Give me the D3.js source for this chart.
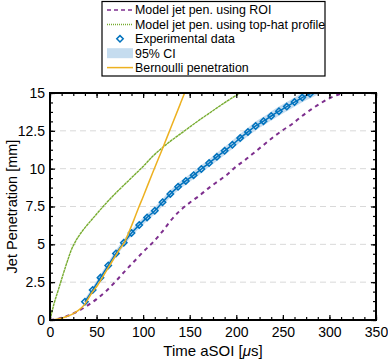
<!DOCTYPE html>
<html>
<head>
<meta charset="utf-8">
<script src="https://cdn.jsdelivr.net/npm/d3@7"></script>
<style>
  body { margin: 0; background: #fff; }
  text { font-family: "Liberation Sans", Arial, sans-serif; }
</style>
</head>
<body>
<div id="chart"></div>
<script>
// data
const expTime = [37.5, 45.8, 54.2, 62.5, 70.8, 79.2, 87.5, 95.8, 104.2, 112.5, 120.8, 129.2, 137.5, 145.8,
  154.2, 162.5, 170.8, 179.2, 187.5, 195.8, 204.2, 212.5, 220.8, 229.2, 237.5, 245.8, 254.2, 262.5,
  270.8, 279.2, 287.5, 295.8];
const expPen = [1.21, 1.98, 2.8, 3.6, 4.4, 5.1, 5.75, 6.28, 6.78, 7.22, 7.78, 8.33, 8.8, 9.19,
  9.57, 9.98, 10.37, 10.78, 11.18, 11.58, 12.02, 12.43, 12.82, 13.14, 13.48, 13.8, 14.1, 14.4,
  14.7, 14.95, 15.22, 15.5];
const ciLow = [1.01, 1.78, 2.59, 3.39, 4.18, 4.88, 5.53, 6.05, 6.55, 6.98, 7.54, 8.09, 8.55, 8.94,
  9.31, 9.72, 10.11, 10.51, 10.91, 11.3, 11.74, 12.15, 12.53, 12.85, 13.18, 13.5, 13.8, 14.09,
  14.39, 14.63, 14.9, 15.18];
const ciHigh = [1.41, 2.18, 3.01, 3.81, 4.62, 5.32, 5.97, 6.51, 7.01, 7.46, 8.02, 8.57, 9.05, 9.44,
  9.83, 10.24, 10.63, 11.05, 11.45, 11.86, 12.3, 12.71, 13.11, 13.43, 13.78, 14.1, 14.4, 14.71,
  15.01, 15.27, 15.54, 15.82];

const roiTime = [0, 10, 20, 30, 40, 50, 60, 70, 80, 90, 100, 110, 120, 130, 140, 150, 160, 170, 180,
  190, 200, 210, 220, 230, 240, 250, 260, 270, 280, 290, 300, 314, 325];
const roiPen = [0, 0.1, 0.3, 0.58, 0.95, 1.38, 1.9, 2.52, 3.2, 3.85, 4.5, 5.1, 5.8, 6.6, 7.25, 7.75,
  8.2, 8.7, 9.15, 9.6, 10.15, 10.6, 11.1, 11.6, 12.1, 12.55, 12.95, 13.45, 13.9, 14.3, 14.65, 15, 15.3];

const hatTime = [0, 4, 9, 14, 19, 23, 27, 35, 43, 50, 60, 70, 80, 90, 100, 110, 120, 130, 140, 150,
  160, 170, 180, 190, 204, 215];
const hatPen = [0, 1.0, 2.0, 3.0, 3.95, 4.65, 5.15, 5.9, 6.5, 7.0, 7.7, 8.35, 8.95, 9.55, 10.15,
  10.8, 11.35, 11.85, 12.3, 12.75, 13.2, 13.62, 14.05, 14.46, 15.0, 15.4];

const bernTime = [0, 10, 20, 25, 30, 37.5, 45, 50, 60, 70, 75, 80, 85, 90, 95, 100, 110, 120, 130, 140, 150];
const bernPen = [0, 0.08, 0.28, 0.42, 0.62, 1.05, 1.8, 2.2, 3.2, 4.2, 4.7, 5.15, 5.85, 6.6, 7.4,
  8.15, 9.7, 11.2, 12.75, 14.3, 15.85];

const xTicks = [0, 50, 100, 150, 200, 250, 300, 350];
const yTicks = [0, 2.5, 5, 7.5, 10, 12.5, 15];

const W = 388, H = 360;
const margin = {top: 93, right: 12, bottom: 40, left: 50},
    width = W - margin.left - margin.right,
    height = H - margin.top - margin.bottom;

const cPurple = "#7E2F8E", cGreen = "#77AC30", cBlue = "#0072BD", cOrange = "#EDB120", cCI = "#c5dcef";

const svg = d3.select("#chart").append("svg")
    .attr("width", W).attr("height", H);

const g = svg.append("g").attr("transform", `translate(${margin.left},${margin.top})`);

const x = d3.scaleLinear().domain([0, 350]).range([0, width]);
const y = d3.scaleLinear().domain([0, 15]).range([height, 0]);

g.append("clipPath").attr("id", "clip")
  .append("rect").attr("width", width).attr("height", height);

// grid
g.selectAll(".grid").data(yTicks.filter(d => d > 0 && d < 15))
  .join("line")
    .attr("x1", 0).attr("x2", width)
    .attr("y1", d => y(d)).attr("y2", d => y(d))
    .attr("stroke", "#d9d9d9").attr("stroke-width", 1)
    .attr("stroke-dasharray", "6,4");

const plot = g.append("g").attr("clip-path", "url(#clip)");

const exp = expTime.map((t, i) => ({t, v: expPen[i], lo: ciLow[i], hi: ciHigh[i]}));
const pairs = (ts, vs) => ts.map((t, i) => ({t, v: vs[i]}));

// CI band
plot.append("path").datum(exp)
  .attr("fill", cCI)
  .attr("d", d3.area().x(d => x(d.t)).y0(d => y(d.lo)).y1(d => y(d.hi)).curve(d3.curveMonotoneX));

const line = d3.line().x(d => x(d.t)).y(d => y(d.v)).curve(d3.curveMonotoneX);

plot.append("path").datum(pairs(roiTime, roiPen))
  .attr("fill", "none").attr("stroke", cPurple).attr("stroke-width", 2)
  .attr("stroke-dasharray", "4,4").attr("d", line);

plot.append("path").datum(pairs(hatTime, hatPen))
  .attr("fill", "none").attr("stroke", cGreen).attr("stroke-width", 1.4)
  .attr("stroke-dasharray", "3,0.5").attr("d", line);

plot.append("path").datum(exp)
  .attr("fill", "none").attr("stroke", cBlue).attr("stroke-width", 1.5)
  .attr("d", line);

const diamond = d3.symbol().type(d3.symbolDiamond2).size(26);
plot.selectAll(".pt").data(exp.filter(d => d.v <= 15))
  .join("path")
    .attr("transform", d => `translate(${x(d.t)},${y(d.v)})`)
    .attr("d", diamond)
    .attr("fill", "none").attr("stroke", cBlue).attr("stroke-width", 1.5);

plot.append("path").datum(pairs(bernTime, bernPen))
  .attr("fill", "none").attr("stroke", cOrange).attr("stroke-width", 1.5)
  .attr("d", line);

// axes with inward ticks, mirrored on all sides
function drawAxis(axis, transform) {
  const a = g.append("g").attr("transform", transform).call(axis);
  a.select(".domain").remove();
  a.selectAll(".tick line").attr("stroke", "#000").attr("stroke-width", 1.2);
  a.selectAll("text").attr("font-size", 14).attr("fill", "#000");
  return a;
}
const minorX = d3.range(0, 350.1, 12.5), minorY = d3.range(0, 15.01, 0.625);

drawAxis(d3.axisBottom(x).tickValues(xTicks).tickSize(-5).tickPadding(7).tickFormat(d3.format("d")), `translate(0,${height})`);
drawAxis(d3.axisBottom(x).tickValues(minorX).tickSize(-3).tickFormat(""), `translate(0,${height})`);
drawAxis(d3.axisTop(x).tickValues(xTicks).tickSize(-5).tickFormat(""), "translate(0,0)");
drawAxis(d3.axisTop(x).tickValues(minorX).tickSize(-3).tickFormat(""), "translate(0,0)");
drawAxis(d3.axisLeft(y).tickValues(yTicks).tickSize(-5).tickPadding(5).tickFormat(d => d), "translate(0,0)");
drawAxis(d3.axisLeft(y).tickValues(minorY).tickSize(-3).tickFormat(""), "translate(0,0)");
drawAxis(d3.axisRight(y).tickValues(yTicks).tickSize(-5).tickFormat(""), `translate(${width},0)`);
drawAxis(d3.axisRight(y).tickValues(minorY).tickSize(-3).tickFormat(""), `translate(${width},0)`);

g.append("rect").attr("width", width).attr("height", height)
  .attr("fill", "none").attr("stroke", "#000").attr("stroke-width", 2);

// axis labels
const xl = svg.append("text")
  .attr("x", margin.left + width / 2).attr("y", 356)
  .attr("text-anchor", "middle").attr("font-size", 15);
xl.append("tspan").text("Time aSOI [");
xl.append("tspan").attr("font-style", "italic").text("μ");
xl.append("tspan").text("s]");

svg.append("text")
  .attr("transform", `translate(17,${margin.top + height / 2}) rotate(-90)`)
  .attr("text-anchor", "middle").attr("font-size", 14.5)
  .text("Jet Penetration [mm]");

// legend
const legend = svg.append("g");
legend.append("rect").attr("x", 102).attr("y", 1.5).attr("width", 223).attr("height", 74.5)
  .attr("fill", "#fff").attr("stroke", "#000").attr("stroke-width", 1.2);

const items = [
  {label: "Model jet pen. using ROI", kind: "roi"},
  {label: "Model jet pen. using top-hat profile", kind: "hat"},
  {label: "Experimental data", kind: "exp"},
  {label: "95% CI", kind: "ci"},
  {label: "Bernoulli penetration", kind: "bern"}
];
items.forEach((it, i) => {
  const yy = 10 + i * 14.4;
  const sx0 = 107, sx1 = 133;
  if (it.kind === "roi") {
    legend.append("line").attr("x1", sx0).attr("x2", sx1).attr("y1", yy).attr("y2", yy)
      .attr("stroke", cPurple).attr("stroke-width", 1.5).attr("stroke-dasharray", "4,3");
  } else if (it.kind === "hat") {
    legend.append("line").attr("x1", sx0).attr("x2", sx1).attr("y1", yy).attr("y2", yy)
      .attr("stroke", cGreen).attr("stroke-width", 1.5).attr("stroke-dasharray", "1,1");
  } else if (it.kind === "exp") {
    legend.append("path").attr("transform", `translate(${(sx0 + sx1) / 2},${yy})`)
      .attr("d", diamond).attr("fill", "none").attr("stroke", cBlue).attr("stroke-width", 1.5);
  } else if (it.kind === "ci") {
    legend.append("rect").attr("x", sx0).attr("y", yy - 5).attr("width", sx1 - sx0).attr("height", 10)
      .attr("fill", cCI);
  } else {
    legend.append("line").attr("x1", sx0).attr("x2", sx1).attr("y1", yy).attr("y2", yy)
      .attr("stroke", cOrange).attr("stroke-width", 1.5);
  }
  legend.append("text").attr("x", 135).attr("y", yy + 4.3).attr("font-size", 12.4).text(it.label);
});
</script>
</body>
</html>
